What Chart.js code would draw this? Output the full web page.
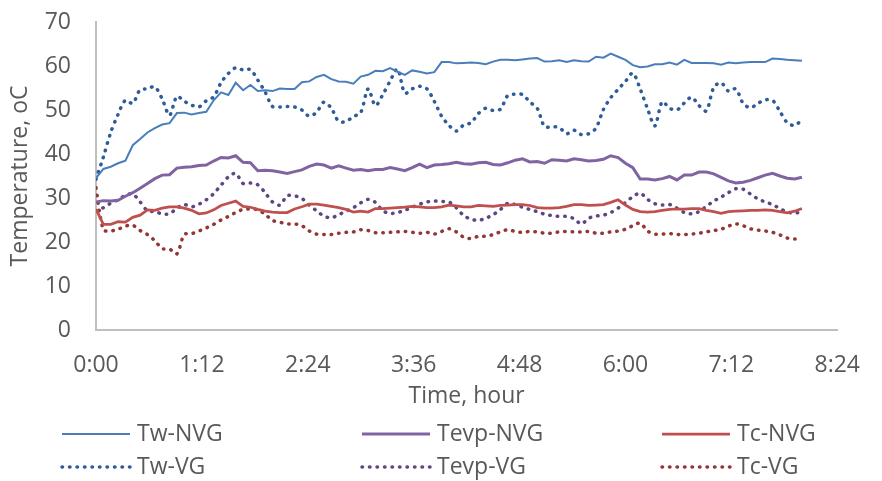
<!DOCTYPE html>
<html>
<head>
<meta charset="UTF-8">
<title>Temperature chart</title>
<style>
	body { margin: 0; background: #fff; }
	#wrap { width: 882px; height: 481px; }
</style>
</head>
<body>
<div id="wrap"><canvas id="tempChart"></canvas></div>

<script src="https://cdn.jsdelivr.net/npm/chart.js"></script>
<script>
	// time in minutes (one reading every 5 min)
	const timeMin = [0,5,10,15,20,25,30,35,40,45,50,55,60,65,70,75,80,85,90,95,
		100,105,110,115,120,125,130,135,140,145,150,155,160,165,170,175,180,185,190,195,
		200,205,210,215,220,225,230,235,240,245,250,255,260,265,270,275,280,285,290,295,
		300,305,310,315,320,325,330,335,340,345,350,355,360,365,370,375,380,385,390,395,
		400,405,410,415,420,425,430,435,440,445,450,455,460,465,470,475,480];

	const xTickLabels = ['0:00','1:12','2:24','3:36','4:48','6:00','7:12','8:24'];

	const twNVG = [34.5,36.6,37.1,37.9,38.5,42.0,43.4,44.9,45.9,46.7,
		47.0,49.3,49.4,49.0,49.3,49.6,52.2,54.0,53.4,56.2,
		54.5,55.7,54.3,54.5,54.3,54.9,54.8,54.8,56.3,56.5,
		57.5,58.0,57.0,56.5,56.4,56.0,57.6,58.0,58.9,58.8,
		59.5,58.7,58.0,59.0,58.7,58.3,58.6,60.9,60.9,60.6,
		60.7,60.8,60.7,60.4,61.0,61.4,61.4,61.3,61.5,61.7,
		61.8,61.0,61.1,61.3,60.9,61.3,61.1,61.0,62.1,61.9,
		62.8,62.1,61.4,60.2,59.7,59.9,60.4,60.4,60.8,60.3,
		61.4,60.7,60.7,60.7,60.6,60.3,60.8,60.6,60.8,60.9,
		60.9,60.9,61.7,61.6,61.4,61.3,61.2];

	const tevpNVG = [29.1,29.4,29.3,29.5,30.4,31.2,32.2,33.3,34.4,35.2,
		35.3,36.8,37.0,37.1,37.4,37.5,38.4,39.2,39.1,39.6,
		38.1,38.0,36.2,36.3,36.2,35.9,35.6,36.0,36.4,37.2,
		37.7,37.5,36.8,37.3,36.8,36.3,36.5,36.2,36.5,36.5,
		36.9,36.6,36.2,36.9,37.7,36.9,37.5,37.6,37.8,38.1,
		37.8,37.7,38.0,38.1,37.6,37.5,38.0,38.6,38.9,38.2,
		38.3,37.9,38.7,38.6,38.4,38.9,38.7,38.4,38.5,38.8,
		39.6,39.2,37.9,36.9,34.3,34.3,34.1,34.4,34.9,34.1,
		35.2,35.2,35.9,35.9,35.5,34.7,33.9,33.4,33.6,34.0,
		34.6,35.2,35.6,35.0,34.5,34.3,34.7];

	const tcNVG = [27.5,24.0,24.0,24.6,24.5,25.6,26.1,27.3,27.2,27.7,
		28.0,28.0,27.7,27.2,26.4,26.6,27.3,28.3,28.8,29.3,
		28.1,27.9,27.4,27.0,26.8,26.7,26.7,27.5,28.0,28.6,
		28.6,28.4,28.1,27.8,27.4,26.8,27.0,26.8,27.6,27.6,
		27.7,27.8,27.9,28.1,28.0,27.8,27.8,28.0,28.4,28.2,
		28.0,28.0,28.3,28.2,28.1,28.3,28.4,28.5,28.5,28.3,
		27.8,27.7,27.7,27.8,28.1,28.5,28.5,28.3,28.4,28.5,
		29.0,29.6,28.4,27.4,26.9,26.8,26.9,27.2,27.4,27.5,
		27.5,27.6,27.6,27.2,26.9,26.5,26.9,27.0,27.1,27.2,
		27.2,27.3,27.2,26.9,26.6,27.0,27.6];

	const twVG = [34.3,39.3,44.9,49.0,52.2,51.5,54.6,54.8,55.3,52.5,
		48.8,53.1,52.0,51.1,50.7,52.1,53.0,56.2,58.3,59.6,
		59.1,59.2,56.8,54.1,50.8,50.7,50.8,50.7,50.0,48.6,
		49.5,51.8,50.4,47.4,47.4,48.5,49.4,54.8,51.0,53.5,
		56.6,59.3,53.8,54.8,55.4,54.8,52.0,48.6,46.5,45.2,
		46.6,47.1,49.2,50.4,49.9,50.2,53.3,53.6,53.5,51.8,
		50.4,46.2,46.2,46.0,44.6,45.4,44.4,44.6,45.9,50.1,
		52.8,54.7,56.5,58.4,54.8,50.3,46.4,51.9,50.4,50.0,
		51.6,52.9,51.0,49.8,55.1,56.2,54.3,54.8,51.5,50.5,
		51.5,52.3,52.2,49.7,47.1,46.5,47.8];

	const tevpVG = [27.0,27.8,28.8,29.6,30.6,30.9,29.1,27.1,26.9,26.4,
		26.4,27.7,28.5,28.0,28.6,29.6,31.0,32.9,34.8,35.6,
		33.3,33.4,33.0,31.2,29.1,28.4,30.5,30.5,29.9,28.4,
		27.1,25.9,25.5,26.2,27.0,27.8,28.9,29.7,29.0,27.1,
		26.5,26.7,27.2,27.9,28.6,29.1,29.3,29.2,29.1,27.8,
		26.0,25.2,24.9,25.4,26.2,27.4,28.8,28.5,27.9,27.4,
		26.9,26.3,26.0,25.8,25.8,25.3,24.1,25.4,25.9,26.1,
		26.7,27.7,29.0,30.3,31.1,29.7,28.7,28.4,28.5,27.7,
		26.7,26.4,26.9,28.1,29.3,30.2,31.2,32.1,32.0,30.9,
		29.8,29.1,28.5,27.6,26.8,26.6,26.8];

	const tcVG = [32.3,22.8,22.5,22.9,23.6,23.8,22.6,21.7,20.3,18.5,
		18.4,17.3,21.7,21.9,22.5,23.2,24.0,25.0,25.8,26.7,
		27.4,27.5,27.3,26.3,24.9,24.5,24.1,24.1,23.7,22.5,
		21.8,21.7,21.7,22.0,22.2,22.3,22.8,22.6,22.1,22.1,
		22.2,22.3,22.4,22.2,22.0,22.2,21.8,22.4,23.0,22.3,
		21.1,20.8,21.3,21.3,21.7,22.3,22.8,22.4,22.2,22.4,
		22.3,22.0,22.0,22.3,22.4,22.3,22.3,22.4,22.0,22.0,
		22.3,22.5,22.9,23.7,24.3,22.5,21.8,21.8,21.9,21.7,
		21.7,21.8,22.0,22.3,22.6,22.9,23.6,24.1,23.7,23.0,
		22.7,22.5,22.2,21.6,20.9,20.7,20.8];

	const textColor = '#595959';
	const axisColor = '#bfbfbf';
	const fontFamily = '"Open Sans", sans-serif';
	const dots = [0.5, 7];

	// legend in three fixed columns under the axis title
	const legendCols = [62, 362, 662];
	const legendRows = [434, 467];
	const columnLegend = {
		id: 'columnLegend',
		afterDraw(chart) {
			const ctx = chart.ctx;
			chart.data.datasets.forEach(function(ds, i) {
				const x = legendCols[i % 3];
				const y = legendRows[Math.floor(i / 3)];
				ctx.save();
				ctx.strokeStyle = ds.borderColor;
				ctx.lineWidth = ds.borderWidth;
				ctx.lineCap = ds.borderCapStyle || 'butt';
				ctx.setLineDash(ds.borderDash || []);
				ctx.beginPath();
				ctx.moveTo(x, y);
				ctx.lineTo(x + 68, y);
				ctx.stroke();
				ctx.setLineDash([]);
				ctx.fillStyle = textColor;
				ctx.font = '23px ' + fontFamily;
				ctx.textBaseline = 'middle';
				ctx.fillText(ds.label, x + 75, y);
				ctx.restore();
			});
		}
	};

	const ctx = document.getElementById('tempChart').getContext('2d');
	const tempChart = new Chart(ctx, {
		type: 'line',
		data: {
			labels: timeMin,
			datasets: [
				{ label: 'Tw-NVG', data: twNVG, borderColor: '#4A7EBB', borderWidth: 2 },
				{ label: 'Tevp-NVG', data: tevpNVG, borderColor: '#8064A2', borderWidth: 3 },
				{ label: 'Tc-NVG', data: tcNVG, borderColor: '#C0504D', borderWidth: 2.75 },
				{ label: 'Tw-VG', data: twVG, borderColor: '#2E5C99', borderWidth: 3.5,
					borderDash: dots, borderCapStyle: 'round', tension: 0.3 },
				{ label: 'Tevp-VG', data: tevpVG, borderColor: '#5E4780', borderWidth: 3.5,
					borderDash: dots, borderCapStyle: 'round', tension: 0.3 },
				{ label: 'Tc-VG', data: tcVG, borderColor: '#943634', borderWidth: 3.5,
					borderDash: dots, borderCapStyle: 'round', tension: 0.3 }
			]
		},
		options: {
			responsive: true,
			maintainAspectRatio: false,
			animation: false,
			elements: { point: { radius: 0 } },
			layout: { padding: { left: 0, right: 26, top: 22, bottom: 71 } },
			plugins: {
				legend: { display: false },
				tooltip: { enabled: false }
			},
			scales: {
				x: {
					type: 'linear',
					min: 0,
					max: 504,
					grid: { display: false, drawTicks: false },
					border: { color: axisColor, width: 2 },
					ticks: {
						stepSize: 72,
						padding: 22,
						color: textColor,
						font: { family: fontFamily, size: 23 },
						maxRotation: 0,
						callback: function(value, index) { return xTickLabels[index]; }
					},
					title: {
						display: true,
						text: 'Time, hour',
						color: textColor,
						font: { family: fontFamily, size: 23 },
						padding: 0
					},
					afterFit: function(scale) { scale.height = 80; }
				},
				y: {
					min: 0,
					max: 70,
					grid: { display: false, drawTicks: false },
					border: { color: axisColor, width: 2 },
					ticks: {
						stepSize: 10,
						padding: 25,
						color: textColor,
						font: { family: fontFamily, size: 23 }
					},
					title: {
						display: true,
						text: 'Temperature, oC',
						color: textColor,
						font: { family: fontFamily, size: 23 },
						padding: { top: 7, bottom: 0 }
					},
					afterFit: function(scale) {
						// keep the big label gap from pushing the plot top down
						scale.width = 96;
						scale.paddingTop = 0;
						scale.paddingBottom = 0;
					}
				}
			}
		},
		plugins: [columnLegend]
	});
</script>
</body>
</html>
